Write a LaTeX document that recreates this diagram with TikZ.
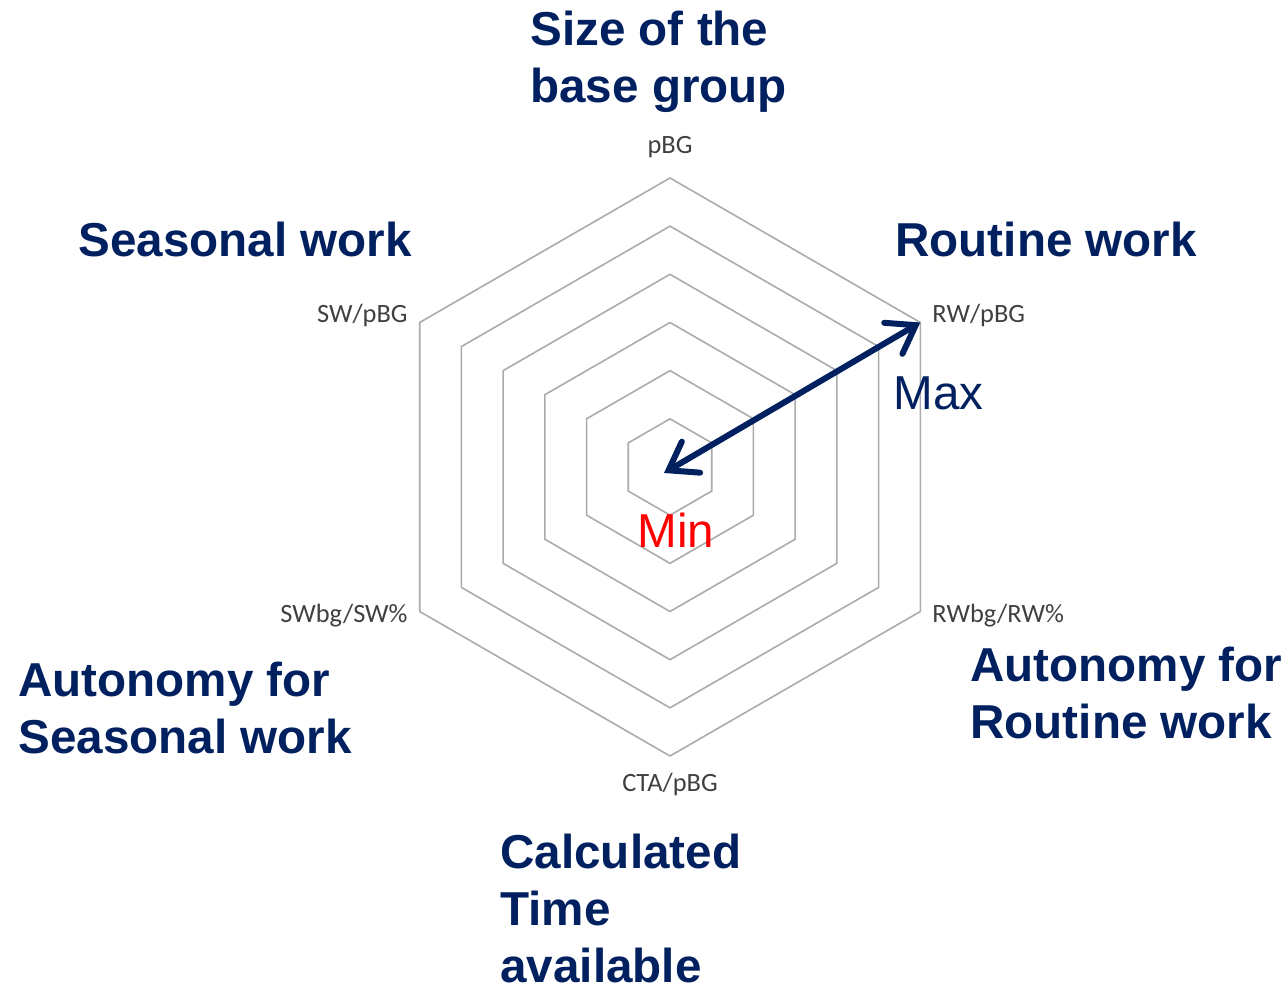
\documentclass[tikz,border=0pt]{standalone}
\usepackage{fontspec}
\setmainfont{Liberation Sans}
\newfontfamily\calibri{Carlito}
\usepackage{tikz}
\usetikzlibrary{arrows.meta,calc}
\definecolor{marine}{HTML}{002060}
\definecolor{grille}{HTML}{ABABAB}
\definecolor{gris}{HTML}{404040}
\tikzset{anneau/.style={
    draw=grille,
    line width=0.8pt,
    line join=round}}
\tikzset{axe/.style={
    text=gris,
    inner sep=0pt,
    font=\calibri\fontsize{13.2}{15}\selectfont}}
\tikzset{titre/.style={
    text=marine,
    inner sep=0pt,
    anchor=west,
    align=left,
    font=\bfseries\fontsize{23.8}{28.5}\selectfont}}
\tikzset{borne/.style={
    inner sep=0pt,
    anchor=west,
    font=\fontsize{23.8}{28.5}\selectfont}}
\tikzset{fleche/.style={
    draw=marine,
    line width=3pt,
    line cap=round,
    {Straight Barb[length=13pt,width=18pt,line cap=round]}-{Straight Barb[length=13pt,width=18pt,line cap=round]}}}

\begin{document}
\begin{tikzpicture}[x=0.5pt,y=0.5pt]
\useasboundingbox (0,0) rectangle (1286,996);
\coordinate (O) at (670,529);
\coordinate (lo) at (664,523);
\coordinate (hi) at ($(O)+(30:289)$);

% grille hexagonale
\foreach \k in {1,...,6}{
  \draw[anneau] ($(O)+(90:\k*48.17)$) -- ($(O)+(30:\k*48.17)$) -- ($(O)+(-30:\k*48.17)$)
    -- ($(O)+(-90:\k*48.17)$) -- ($(O)+(-150:\k*48.17)$) -- ($(O)+(150:\k*48.17)$) -- cycle;
}

\node[axe] (pbg) at (670,849) {pBG};
\node[axe,anchor=east] (swpbg) at (408,681) {SW/pBG};
\node[axe,anchor=west] (rwpbg) at (932,681) {RW/pBG};
\node[axe,anchor=east] (swbg) at (408,380) {SWbg/SW\%};
\node[axe,anchor=west] (rwbg) at (932,380) {RWbg/RW\%};
\node[axe] (cta) at (670,212) {CTA/pBG};

\node[titre] (taille) at (530,934.5) {Size of the\\base group};
\node[titre] (saison) at (78,757) {Seasonal work};
\node[titre] (routine) at (895,757) {Routine work};
\node[titre] (autosw) at (18,288) {Autonomy for\\Seasonal work};
\node[titre] (autorw) at (970,303.5) {Autonomy for\\Routine work};
\node[titre] (temps) at (500,88) {Calculated\\Time\\available};

\node[borne,text=marine] (max) at (893,603) {Max};
\node[borne,text=red] (min) at (637,466) {Min};

\draw[fleche] (lo) -- (hi);
\end{tikzpicture}
\end{document}
